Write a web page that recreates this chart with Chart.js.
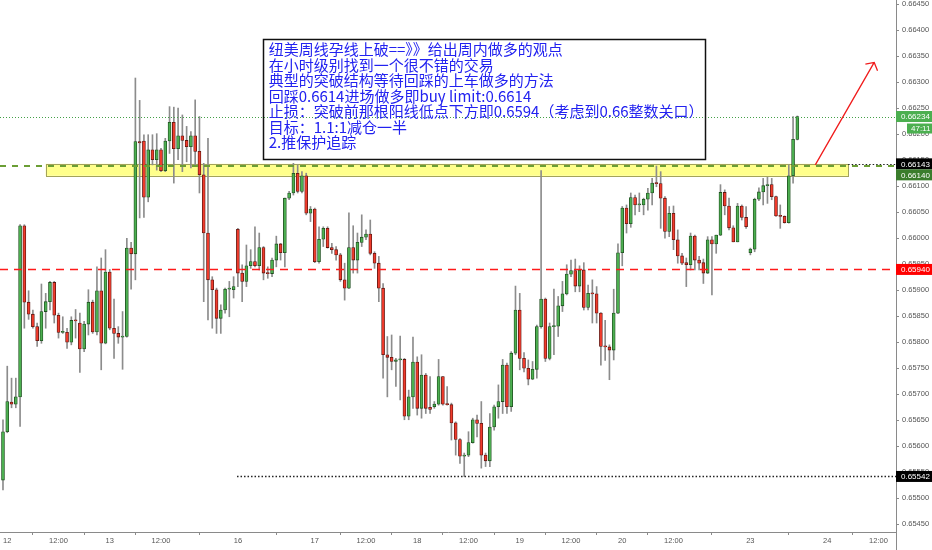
<!DOCTYPE html>
<html>
<head>
<meta charset="utf-8">
<script src="https://cdn.jsdelivr.net/npm/chart.js@4.4.1/dist/chart.umd.min.js"></script>
<style>
  html, body { margin: 0; padding: 0; background: #fff; }
  #wrap { width: 932px; height: 550px; }
</style>
</head>
<body>
<div id="wrap"><canvas id="nzdChart" width="932" height="550"></canvas></div>
<script>
// NZD/USD 1h candles. slot = trading hour counted from the 12th 00:00 (weekend hours left out)
const firstSlot = -1

const open = [
  0.65535, 0.65628, 0.65685, 0.65681, 0.65695, 0.66024, 0.65877, 0.65854, 0.65830, 0.65803,
  0.65859, 0.65878, 0.65915, 0.65852, 0.65819, 0.65819, 0.65800, 0.65842, 0.65837, 0.65787,
  0.65835, 0.65877, 0.65820, 0.65899, 0.65798, 0.65935, 0.65827, 0.65817, 0.65810, 0.65811,
  0.65981, 0.65970, 0.66186, 0.66187, 0.66079, 0.66170, 0.66151, 0.66170, 0.66130, 0.66187,
  0.66223, 0.66172, 0.66197, 0.66188, 0.66176, 0.66197, 0.66167, 0.66122, 0.66010, 0.65920,
  0.65901, 0.65846, 0.65862, 0.65902, 0.65901, 0.66017, 0.65933, 0.65917, 0.65947, 0.65955,
  0.65947, 0.65982, 0.65933, 0.65932, 0.65958, 0.65989, 0.65972, 0.66077, 0.66087, 0.66125,
  0.66090, 0.66120, 0.66048, 0.66056, 0.65955, 0.65998, 0.66019, 0.65982, 0.65978, 0.65968,
  0.65920, 0.65904, 0.65982, 0.65958, 0.65992, 0.66002, 0.66008, 0.65971, 0.65952, 0.65904,
  0.65776, 0.65771, 0.65763, 0.65766, 0.65767, 0.65658, 0.65695, 0.65762, 0.65673, 0.65737,
  0.65675, 0.65676, 0.65681, 0.65734, 0.65681, 0.65680, 0.65645, 0.65613, 0.65581, 0.65583,
  0.65607, 0.65651, 0.65644, 0.65583, 0.65572, 0.65637, 0.65676, 0.65686, 0.65756, 0.65676,
  0.65779, 0.65862, 0.65769, 0.65750, 0.65729, 0.65748, 0.65830, 0.65883, 0.65769, 0.65830,
  0.65831, 0.65870, 0.65893, 0.65931, 0.65938, 0.65908, 0.65939, 0.65867, 0.65894, 0.65893,
  0.65856, 0.65792, 0.65791, 0.65785, 0.65856, 0.65972, 0.66058, 0.66028, 0.66078, 0.66064,
  0.66064, 0.66075, 0.66087, 0.66106, 0.66105, 0.66077, 0.66013, 0.66048, 0.65997, 0.65966,
  0.65953, 0.65949, 0.66004, 0.65958, 0.65953, 0.65933, 0.65997, 0.65989, 0.66006, 0.66088,
  0.66062, 0.66020, 0.65993, 0.66062, 0.66040, 0.65972, 0.65979, 0.66075, 0.66089, 0.66101,
  0.66103, 0.66080, 0.66043, 0.66042, 0.66030, 0.66120, 0.66190
]
const high = [
  0.65651, 0.65754, 0.65731, 0.65731, 0.66026, 0.66026, 0.65899, 0.65862, 0.65837, 0.65912,
  0.65894, 0.65917, 0.65917, 0.65856, 0.65849, 0.65827, 0.65849, 0.65863, 0.65856, 0.65840,
  0.65901, 0.65881, 0.65945, 0.65962, 0.65978, 0.65940, 0.65883, 0.65830, 0.65859, 0.66000,
  0.65992, 0.66308, 0.66265, 0.66199, 0.66199, 0.66199, 0.66201, 0.66173, 0.66192, 0.66253,
  0.66252, 0.66250, 0.66237, 0.66215, 0.66205, 0.66266, 0.66234, 0.66144, 0.66192, 0.65926,
  0.65904, 0.65872, 0.65904, 0.65917, 0.65926, 0.66019, 0.65949, 0.65987, 0.65978, 0.66022,
  0.66010, 0.65984, 0.65945, 0.65962, 0.66004, 0.65990, 0.66077, 0.66090, 0.66144, 0.66141,
  0.66128, 0.66125, 0.66061, 0.66058, 0.66022, 0.66022, 0.66022, 0.65990, 0.65984, 0.65971,
  0.65952, 0.66049, 0.66024, 0.66010, 0.66045, 0.66016, 0.66035, 0.65974, 0.65965, 0.65913,
  0.65811, 0.65814, 0.65769, 0.65812, 0.65769, 0.65708, 0.65810, 0.65772, 0.65776, 0.65740,
  0.65734, 0.65686, 0.65767, 0.65734, 0.65715, 0.65683, 0.65647, 0.65615, 0.65587, 0.65628,
  0.65654, 0.65660, 0.65686, 0.65587, 0.65663, 0.65679, 0.65718, 0.65767, 0.65760, 0.65782,
  0.65908, 0.65894, 0.65780, 0.65766, 0.65763, 0.65833, 0.66130, 0.65885, 0.65837, 0.65902,
  0.65888, 0.65917, 0.65949, 0.65958, 0.65960, 0.65947, 0.65953, 0.65910, 0.65920, 0.65907,
  0.65857, 0.65842, 0.65795, 0.65902, 0.65989, 0.66061, 0.66064, 0.66087, 0.66083, 0.66087,
  0.66077, 0.66096, 0.66115, 0.66139, 0.66128, 0.66080, 0.66061, 0.66062, 0.66016, 0.65971,
  0.65962, 0.66010, 0.66006, 0.65965, 0.65960, 0.66003, 0.66003, 0.66006, 0.66103, 0.66093,
  0.66077, 0.66024, 0.66067, 0.66064, 0.66061, 0.65981, 0.66077, 0.66097, 0.66115, 0.66117,
  0.66115, 0.66081, 0.66064, 0.66043, 0.66141, 0.66234, 0.66235
]
const low = [
  0.65516, 0.65626, 0.65674, 0.65674, 0.65638, 0.65827, 0.65844, 0.65827, 0.65792, 0.65798,
  0.65827, 0.65862, 0.65837, 0.65808, 0.65817, 0.65788, 0.65795, 0.65808, 0.65742, 0.65782,
  0.65814, 0.65817, 0.65814, 0.65747, 0.65797, 0.65824, 0.65769, 0.65798, 0.65748, 0.65810,
  0.65902, 0.65920, 0.66039, 0.66040, 0.66070, 0.66141, 0.66131, 0.66128, 0.66128, 0.66163,
  0.66106, 0.66151, 0.66128, 0.66147, 0.66135, 0.66138, 0.66087, 0.65878, 0.65843, 0.65827,
  0.65817, 0.65817, 0.65856, 0.65849, 0.65885, 0.65907, 0.65878, 0.65907, 0.65942, 0.65945,
  0.65939, 0.65920, 0.65923, 0.65926, 0.65945, 0.65958, 0.65945, 0.66074, 0.66083, 0.66087,
  0.66087, 0.66045, 0.66032, 0.65953, 0.65952, 0.65984, 0.65981, 0.65971, 0.65958, 0.65917,
  0.65881, 0.65903, 0.65933, 0.65933, 0.65984, 0.65997, 0.65968, 0.65942, 0.65878, 0.65731,
  0.65695, 0.65747, 0.65715, 0.65689, 0.65651, 0.65651, 0.65673, 0.65660, 0.65654, 0.65663,
  0.65663, 0.65673, 0.65679, 0.65679, 0.65679, 0.65612, 0.65583, 0.65567, 0.65542, 0.65580,
  0.65606, 0.65618, 0.65558, 0.65561, 0.65561, 0.65631, 0.65654, 0.65663, 0.65663, 0.65667,
  0.65776, 0.65747, 0.65743, 0.65718, 0.65728, 0.65731, 0.65827, 0.65763, 0.65766, 0.65776,
  0.65811, 0.65859, 0.65891, 0.65926, 0.65897, 0.65897, 0.65862, 0.65862, 0.65837, 0.65837,
  0.65756, 0.65765, 0.65728, 0.65766, 0.65855, 0.65947, 0.66010, 0.66021, 0.66045, 0.66051,
  0.66045, 0.66054, 0.66064, 0.66099, 0.66019, 0.66000, 0.66003, 0.65978, 0.65952, 0.65949,
  0.65907, 0.65939, 0.65939, 0.65939, 0.65913, 0.65932, 0.65891, 0.65971, 0.66005, 0.66045,
  0.66016, 0.65993, 0.65993, 0.66035, 0.66019, 0.65968, 0.65974, 0.66072, 0.66064, 0.66067,
  0.66074, 0.66042, 0.66019, 0.66029, 0.66029, 0.66106, 0.66189
]
const close = [
  0.65628, 0.65686, 0.65681, 0.65695, 0.66024, 0.65877, 0.65854, 0.65830, 0.65803, 0.65859,
  0.65878, 0.65915, 0.65852, 0.65819, 0.65819, 0.65800, 0.65842, 0.65841, 0.65787, 0.65835,
  0.65877, 0.65820, 0.65899, 0.65798, 0.65935, 0.65827, 0.65817, 0.65810, 0.65811, 0.65981,
  0.65970, 0.66186, 0.66183, 0.66079, 0.66170, 0.66151, 0.66170, 0.66130, 0.66187, 0.66223,
  0.66172, 0.66197, 0.66188, 0.66176, 0.66197, 0.66167, 0.66122, 0.66010, 0.65920, 0.65901,
  0.65846, 0.65862, 0.65902, 0.65902, 0.65907, 0.65933, 0.65917, 0.65947, 0.65955, 0.65947,
  0.65982, 0.65933, 0.65932, 0.65958, 0.65989, 0.65972, 0.66077, 0.66087, 0.66125, 0.66090,
  0.66120, 0.66048, 0.66056, 0.65955, 0.65998, 0.66019, 0.65982, 0.65978, 0.65968, 0.65920,
  0.65904, 0.65982, 0.65958, 0.65992, 0.66002, 0.66008, 0.65971, 0.65952, 0.65904, 0.65776,
  0.65771, 0.65763, 0.65766, 0.65767, 0.65658, 0.65695, 0.65762, 0.65673, 0.65737, 0.65673,
  0.65671, 0.65681, 0.65734, 0.65681, 0.65680, 0.65645, 0.65613, 0.65581, 0.65583, 0.65607,
  0.65651, 0.65644, 0.65583, 0.65572, 0.65637, 0.65676, 0.65686, 0.65756, 0.65676, 0.65779,
  0.65862, 0.65769, 0.65750, 0.65729, 0.65748, 0.65830, 0.65883, 0.65769, 0.65830, 0.65831,
  0.65870, 0.65893, 0.65931, 0.65938, 0.65908, 0.65939, 0.65867, 0.65894, 0.65893, 0.65856,
  0.65792, 0.65791, 0.65785, 0.65856, 0.65972, 0.66058, 0.66028, 0.66078, 0.66064, 0.66065,
  0.66075, 0.66087, 0.66106, 0.66105, 0.66077, 0.66013, 0.66048, 0.65997, 0.65966, 0.65952,
  0.65949, 0.66004, 0.65958, 0.65952, 0.65933, 0.65997, 0.65989, 0.66006, 0.66088, 0.66062,
  0.66020, 0.65993, 0.66062, 0.66040, 0.66022, 0.65979, 0.66075, 0.66089, 0.66101, 0.66103,
  0.66080, 0.66043, 0.66042, 0.66030, 0.66120, 0.66190, 0.66234
]

// time axis
const tickSlots = [0, 12, 24, 36, 54, 72, 84, 96, 108, 120, 132, 144, 156, 174, 192, 204]
const tickLabels = ['12', '12:00', '13', '12:00', '16', '17', '12:00', '18', '12:00', '19', '12:00', '20', '12:00', '23', '24', '12:00']

// drawn levels
const lastPrice = 0.66234
const zoneTop = 0.66143
const zoneBottom = 0.66120
const entryPrice = 0.66140
const stopPrice = 0.65940
const lowPrice = 0.65542
const countdown = '47:11'

const zoneSlots = [9, 196.9]
const lowLineFrom = 53.8
const arrowFrom = [189.2, 0.66141]
const arrowTo = [203.0, 0.66338]

const noteBox = { left: 59.8, right: 163.2, top: 0.663833, bottom: 0.661525 }
const noteLines = [
  '纽美周线孕线上破==》》给出周内做多的观点',
  '在小时级别找到一个很不错的交易',
  '典型的突破结构等待回踩的上车做多的方法',
  '回踩0.6614进场做多即buy limit:0.6614',
  '止损：突破前那根阳线低点下方即0.6594（考虑到0.66整数关口）',
  '目标：1.1:1减仓一半',
  '2.推保护追踪'
]

const upColor = '#4caf50'
const downColor = '#ef3b2c'
const axisFont = { family: 'Liberation Sans', size: 7.5 }

const slots = open.map((_, i) => firstSlot + i)
const isUp = open.map((o, i) => close[i] >= o)

function hline(ctx, x1, x2, py, color, width, dash) {
  ctx.save()
  ctx.strokeStyle = color
  ctx.lineWidth = width
  ctx.setLineDash(dash)
  ctx.beginPath()
  ctx.moveTo(x1, py)
  ctx.lineTo(x2, py)
  ctx.stroke()
  ctx.restore()
}

function noPadding(scale) {
  scale.paddingTop = 0
  scale.paddingBottom = 0
  scale.paddingLeft = 0
  scale.paddingRight = 0
}

const overlay = {
  id: 'overlay',
  beforeDatasetsDraw(chart) {
    const { ctx, scales: { x, y } } = chart
    // yellow zone
    const zx1 = x.getPixelForValue(zoneSlots[0]), zx2 = x.getPixelForValue(zoneSlots[1])
    const zy1 = y.getPixelForValue(zoneTop), zy2 = y.getPixelForValue(zoneBottom)
    ctx.save()
    ctx.fillStyle = 'rgba(255, 255, 110, 0.8)'
    ctx.fillRect(zx1, zy1, zx2 - zx1, zy2 - zy1)
    ctx.strokeStyle = '#a3a35a'
    ctx.lineWidth = 1
    ctx.strokeRect(Math.round(zx1) + 0.5, Math.round(zy1) + 0.5, Math.round(zx2 - zx1), Math.round(zy2 - zy1))
    ctx.restore()
  },
  afterDatasetsDraw(chart) {
    const { ctx, chartArea: area, scales: { x, y } } = chart
    const py = v => Math.round(y.getPixelForValue(v)) + 0.5
    const zx2 = x.getPixelForValue(zoneSlots[1])

    hline(ctx, area.left, area.right, py(lastPrice), '#43a047', 1, [1, 2])
    hline(ctx, area.left, area.right, py(entryPrice) + 0.5, '#6b9e35', 2, [6, 6])
    hline(ctx, zx2, area.right, py(zoneTop), '#222', 1.2, [1.5, 2])
    hline(ctx, area.left, area.right, py(stopPrice), '#ff1a1a', 1.6, [8, 6])
    hline(ctx, x.getPixelForValue(lowLineFrom), area.right, py(lowPrice), '#222', 1.4, [1.5, 2])

    // arrow
    const ax1 = x.getPixelForValue(arrowFrom[0]), ay1 = y.getPixelForValue(arrowFrom[1])
    const ax2 = x.getPixelForValue(arrowTo[0]), ay2 = y.getPixelForValue(arrowTo[1])
    const ang = Math.atan2(ay2 - ay1, ax2 - ax1)
    ctx.save()
    ctx.strokeStyle = '#f01c1c'
    ctx.lineWidth = 1.3
    ctx.beginPath()
    ctx.moveTo(ax1, ay1)
    ctx.lineTo(ax2, ay2)
    ctx.moveTo(ax2 - 9 * Math.cos(ang - 0.9), ay2 - 9 * Math.sin(ang - 0.9))
    ctx.lineTo(ax2, ay2)
    ctx.lineTo(ax2 - 9 * Math.cos(ang + 0.85), ay2 - 9 * Math.sin(ang + 0.85))
    ctx.stroke()
    ctx.restore()

    // note box
    const bx1 = x.getPixelForValue(noteBox.left), bx2 = x.getPixelForValue(noteBox.right)
    const by1 = y.getPixelForValue(noteBox.top), by2 = y.getPixelForValue(noteBox.bottom)
    ctx.save()
    ctx.strokeStyle = '#111'
    ctx.lineWidth = 1.5
    ctx.strokeRect(Math.round(bx1) + 0.5, Math.round(by1) + 0.5, Math.round(bx2 - bx1), Math.round(by2 - by1))
    ctx.fillStyle = '#2222f0'
    ctx.font = '15px "Noto Sans CJK SC"'
    ctx.textBaseline = 'middle'
    noteLines.forEach((t, i) => ctx.fillText(t, bx1 + 6, by1 + 10.5 + i * 15.55))
    ctx.restore()

    // price tags on the right axis
    const tags = [
      { price: lastPrice, bg: '#4caf50' },
      { price: zoneTop, bg: '#000000' },
      { price: entryPrice, bg: '#3a7d2c' },
      { price: stopPrice, bg: '#ff0000' },
      { price: lowPrice, bg: '#000000' }
    ].map(t => ({ ...t, py: y.getPixelForValue(t.price) })).sort((a, b) => a.py - b.py)
    for (let i = 1; i < tags.length; i++) {
      if (tags[i].py - tags[i - 1].py < 11) tags[i].py = tags[i - 1].py + 11
    }
    ctx.save()
    ctx.font = '8px "Liberation Sans"'
    ctx.textBaseline = 'middle'
    tags.forEach(t => {
      ctx.fillStyle = t.bg
      ctx.fillRect(area.right, t.py - 5.5, 932 - area.right, 11)
      ctx.fillStyle = '#fff'
      ctx.fillText(t.price.toFixed(5), area.right + 5, t.py + 0.5)
    })
    // bar countdown under the last price
    const cy = y.getPixelForValue(lastPrice) + 12
    ctx.fillStyle = '#4caf50'
    ctx.fillRect(area.right + 11, cy - 5, 25, 10)
    ctx.fillStyle = '#fff'
    ctx.fillText(countdown, area.right + 15, cy + 0.5)
    // price axis line runs down through the time axis
    ctx.strokeStyle = '#8a8a8a'
    ctx.lineWidth = 1
    ctx.beginPath()
    ctx.moveTo(Math.round(area.right) + 0.5, area.bottom)
    ctx.lineTo(Math.round(area.right) + 0.5, 550)
    ctx.stroke()
    ctx.restore()
  }
}

const ctx = document.getElementById('nzdChart').getContext('2d')
const nzdChart = new Chart(ctx, {
  type: 'bar',
  data: {
    datasets: [
      {
        label: 'wick',
        data: slots.map((s, i) => ({ x: s, y: [low[i], high[i]] })),
        backgroundColor: '#8c8c8c',
        barThickness: 1,
        grouped: false,
        order: 2
      },
      {
        label: 'body',
        data: slots.map((s, i) => ({ x: s, y: [open[i], close[i]] })),
        backgroundColor: isUp.map(u => u ? upColor : downColor),
        borderColor: isUp.map(u => u ? '#1e4d1f' : '#5a1510'),
        borderWidth: 0.8,
        borderSkipped: false,
        barThickness: 3,
        minBarLength: 1,
        grouped: false,
        order: 1
      }
    ]
  },
  options: {
    responsive: false,
    devicePixelRatio: 1,
    animation: false,
    layout: { padding: 0, autoPadding: false },
    plugins: { legend: { display: false }, tooltip: { enabled: false } },
    scales: {
      x: {
        type: 'linear',
        min: -1.7,
        max: 208.1,
        offset: false,
        grid: { display: true, drawOnChartArea: false, tickLength: 3, color: '#8a8a8a' },
        border: { display: true, color: '#8a8a8a' },
        ticks: {
          autoSkip: false,
          maxRotation: 0,
          padding: 1,
          color: '#555',
          font: axisFont,
          callback: v => tickLabels[tickSlots.indexOf(v)]
        },
        afterBuildTicks: scale => { scale.ticks = tickSlots.map(v => ({ value: v })) },
        afterFit: scale => { scale.height = 18; noPadding(scale) }
      },
      y: {
        type: 'linear',
        position: 'right',
        min: 0.654352,
        max: 0.66458,
        grid: { display: true, drawOnChartArea: false, tickLength: 3, color: '#8a8a8a' },
        border: { display: true, color: '#8a8a8a' },
        ticks: {
          stepSize: 0.0005,
          includeBounds: false,
          padding: 3,
          color: '#555',
          font: axisFont,
          callback: v => v.toFixed(5)
        },
        afterFit: scale => { scale.width = 36; noPadding(scale) }
      }
    }
  },
  plugins: [overlay]
})
</script>
</body>
</html>
